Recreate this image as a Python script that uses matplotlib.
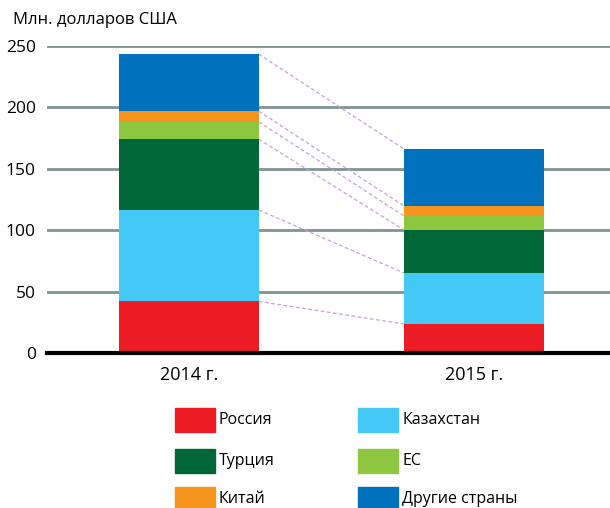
import matplotlib
matplotlib.use("Agg")
import matplotlib.pyplot as plt
from matplotlib.patches import Rectangle
import numpy as np

plt.rcParams['font.family'] = ['Open Sans', 'DejaVu Sans']

years = ['2014 г.', '2015 г.']
countries = ['Россия', 'Казахстан', 'Турция', 'ЕС', 'Китай', 'Другие страны']
values_2014 = [42, 74.4, 57.7, 14.1, 8.7, 46.4]
values_2015 = [23.6, 41.5, 35, 11.4, 8.1, 46.4]
colors = ['#ed1c24', '#44c8f5', '#006838', '#8dc63f', '#f7941d', '#0071bc']
yticks = [0, 50, 100, 150, 200, 250]

data = np.array([values_2014, values_2015])
x = np.arange(len(years))
width = 0.49

fig = plt.figure(figsize=(6.1, 5.08), dpi=100)
ax = fig.add_axes([47 / 610, 1 - 353 / 508, 563 / 610, 307 / 508])

bottoms = np.zeros(len(years))
for i, name in enumerate(countries):
    ax.bar(x, data[:, i], width, bottom=bottoms, color=colors[i], zorder=3, linewidth=0)
    bottoms = bottoms + data[:, i]

# dashed connectors between segment tops
cum = np.cumsum(data, axis=1)
for i in range(len(countries)):
    ax.plot([x[0] + width / 2, x[1] - width / 2], [cum[0, i], cum[1, i]],
            linestyle=(0, (3, 2)), color='#c9a0d6', linewidth=0.9, zorder=2)

ax.set_ylim(0, 250)
ax.set_xlim(-0.498, 1.477)
ax.set_yticks(yticks)
ax.yaxis.grid(True, color='#7f9393', linewidth=2)
ax.set_axisbelow(True)
for s in ['top', 'right', 'left']:
    ax.spines[s].set_visible(False)
ax.spines['bottom'].set_linewidth(3)
ax.spines['bottom'].set_color('black')
ax.spines['bottom'].set_zorder(4)
ax.tick_params(axis='y', length=0, labelsize=12.5, pad=8)
ax.tick_params(axis='x', length=0, labelsize=13, pad=9)
ax.set_xticks(x)
ax.set_xticklabels(years)

fig.text(13 / 610, 1 - 20 / 508, 'Млн. долларов США', fontsize=12, va='center', ha='left')

# legend drawn by hand
col_x = [175, 358]
row_y = [420, 461, 499]
for i, name in enumerate(countries):
    cx = col_x[i % 2]
    cy = row_y[i // 2]
    fig.patches.append(Rectangle((cx / 610, 1 - (cy + 12) / 508), 40 / 610, 24 / 508,
                                 transform=fig.transFigure, color=colors[i]))
    fig.text((cx + 44) / 610, 1 - cy / 508, name, fontsize=11.5, va='center', ha='left')

fig.savefig('out.png', dpi=100)
